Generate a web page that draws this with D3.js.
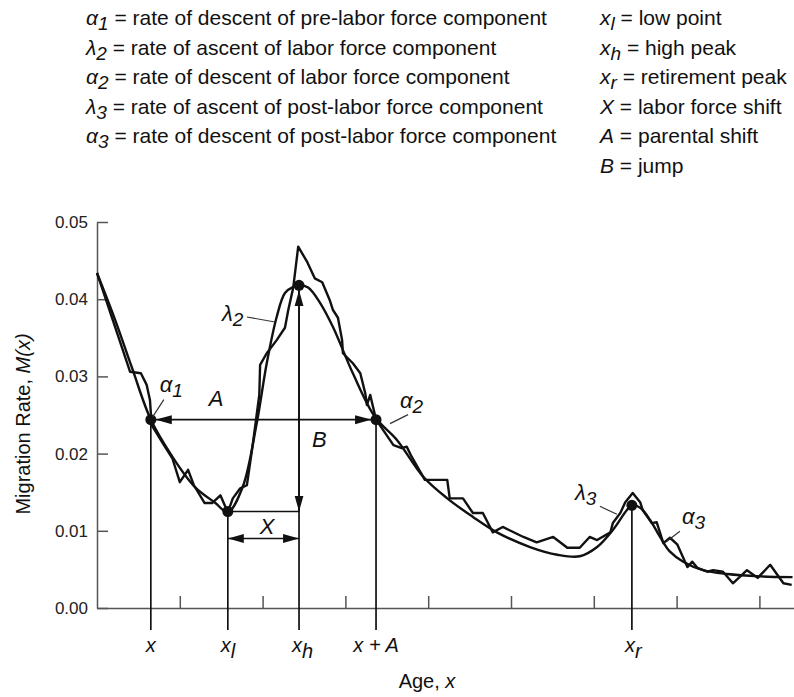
<!DOCTYPE html>
<meta charset="utf-8">
<script src="https://cdn.jsdelivr.net/npm/d3@7"></script>
<style>
body { margin: 0; background: #fff; }
svg { font-family: "Liberation Sans", Arial, sans-serif; }
.legend { font-size: 21px; fill: #111; }
.it { font-style: italic; }
.axis path, .axis line { stroke: #555; stroke-width: 1.5px; }
.axis text { font-size: 17px; fill: #222; font-family: "Liberation Sans", Arial, sans-serif; }
.curve { fill: none; stroke: #111; stroke-width: 2.4px; stroke-linejoin: round; }
.guide { stroke: #111; stroke-width: 1.7px; fill: none; }
.leader { stroke: #333; stroke-width: 1.2px; }
.ann { font-size: 22px; font-style: italic; fill: #111; }
.lab { font-size: 20px; fill: #111; }
</style>
<body>
<script>

// fitted model schedule (age, rate)
var fitAge  = [0, 2.2, 4.2, 6.5, 9.1, 11.8, 14.3, 15.8, 17.6, 19.3, 20.5, 21.7, 22.7, 23.7, 24.5, 25.5,
               26.9, 28.5, 30.9, 33.6, 36.2, 39.4, 42.3, 45.4, 48.3, 52.3, 55.6, 58.3, 60.4, 62.3, 64.0,
               64.6, 65.6, 66.8, 68.0, 69.2, 70.8, 73.2, 76.1, 80.1, 84.0];
var fitRate = [0.0434, 0.0373, 0.0312, 0.0244, 0.0196, 0.0157, 0.0136, 0.0124, 0.0157, 0.0240, 0.0317,
               0.0377, 0.0408, 0.0416, 0.0418, 0.0415, 0.0396, 0.0364, 0.0304, 0.0247, 0.0218, 0.0170,
               0.0142, 0.0118, 0.0098, 0.0079, 0.0069, 0.0067, 0.0079, 0.0101, 0.0127, 0.0133, 0.0130,
               0.0114, 0.0092, 0.0073, 0.0060, 0.0049, 0.0044, 0.0041, 0.0040];

// observed rates (age, rate)
var obsAge  = [0, 4.0, 5.3, 6.0, 6.4, 6.6, 8.2, 9.1, 10.0, 11.0, 11.7, 13.0, 13.9, 14.9, 15.8, 16.4,
               17.3, 18.1, 18.8, 19.6, 19.7, 20.5, 21.7, 22.7, 23.1, 23.7, 24.3, 25.4, 26.3, 27.2, 28.1,
               28.5, 29.1, 29.6, 29.7, 30.9, 31.8, 32.4, 32.6, 33.0, 33.7, 35.8, 36.8, 37.4, 38.0, 39.6,
               42.3, 42.6, 44.2, 45.4, 46.6, 47.8, 49.0, 51.5, 53.1, 55.1, 56.8, 58.3, 59.5, 60.4, 62.0,
               62.3, 63.2, 63.8, 64.7, 65.6, 65.9, 67.0, 67.6, 68.4, 69.2, 70.1, 71.3, 71.9, 72.5, 73.7,
               74.4, 75.6, 76.8, 78.5, 79.8, 81.3, 82.9, 83.9];
var obsRate = [0.0434, 0.0306, 0.0304, 0.0289, 0.0269, 0.0237, 0.0209, 0.0194, 0.0163, 0.0179, 0.0159,
               0.0136, 0.0136, 0.0146, 0.0124, 0.0142, 0.0155, 0.0159, 0.0211, 0.0276, 0.0315, 0.0330,
               0.0347, 0.0363, 0.0386, 0.0415, 0.0468, 0.0448, 0.0427, 0.0422, 0.0399, 0.0386, 0.0376,
               0.0347, 0.0330, 0.0317, 0.0304, 0.0278, 0.0263, 0.0276, 0.0244, 0.0211, 0.0207, 0.0209,
               0.0196, 0.0166, 0.0166, 0.0142, 0.0142, 0.0123, 0.0123, 0.0098, 0.0105, 0.0092, 0.0085,
               0.0092, 0.0078, 0.0078, 0.0092, 0.0088, 0.0098, 0.0110, 0.0123, 0.0137, 0.0149, 0.0137,
               0.0127, 0.0110, 0.0111, 0.0084, 0.0091, 0.0082, 0.0053, 0.0060, 0.0052, 0.0047, 0.0049,
               0.0047, 0.0032, 0.0049, 0.0039, 0.0056, 0.0032, 0.0030];

// marked points: x, x_l, x_h, x+A, x_r
var markAge  = [6.5, 15.8, 24.4, 33.7, 64.6];
var markRate = [0.0244, 0.0125, 0.0418, 0.0244, 0.0133];
var markMain = ["x", "x", "x", "x + A", "x"];
var markSub  = ["", "l", "h", "", "r"];

var xTicks = [10, 20, 30, 40, 50, 60, 70, 80];
var yTicks = [0, 0.01, 0.02, 0.03, 0.04, 0.05];

var legSym  = ["α", "λ", "α", "λ", "α"];
var legSub  = ["1", "2", "2", "3", "3"];
var legText = ["rate of descent of pre-labor force component",
               "rate of ascent of labor force component",
               "rate of descent of labor force component",
               "rate of ascent of post-labor force component",
               "rate of descent of post-labor force component"];
var keySym  = ["x", "x", "x", "X", "A", "B"];
var keySub  = ["l", "h", "r", "", "", ""];
var keyText = ["low point", "high peak", "retirement peak", "labor force shift", "parental shift", "jump"];

var w = 794, h = 697;
var svg = d3.select("body").append("svg").attr("width", w).attr("height", h);

var x = d3.scaleLinear().domain([0, 85]).range([97, 800.8]);
var y = d3.scaleLinear().domain([0, 0.05]).range([608, 222]);
var axisBottomY = 630;

// arrow marker
svg.append("defs").append("marker")
    .attr("id", "arr")
    .attr("markerUnits", "userSpaceOnUse")
    .attr("viewBox", "0 -5 16 10")
    .attr("markerWidth", 16).attr("markerHeight", 10)
    .attr("refX", 16).attr("refY", 0)
    .attr("orient", "auto-start-reverse")
  .append("path").attr("d", "M0,-4.5L16,0L0,4.5Z").attr("fill", "#111");

// legend
function legendRow(g, sx, sy, sym, sub, txt) {
  var t = g.append("text").attr("class", "legend").attr("x", sx).attr("y", sy);
  t.append("tspan").attr("class", "it").text(sym);
  if (sub) t.append("tspan").attr("class", "it").attr("dy", 5).style("font-size", "19px").text(sub);
  t.append("tspan").attr("dy", sub ? -5 : 0).text(" = " + txt);
}
var leg = svg.append("g");
legText.forEach(function(d, i) { legendRow(leg, 86, 25 + i * 29.6, legSym[i], legSub[i], d); });
keyText.forEach(function(d, i) { legendRow(leg, 600, 25 + i * 29.6, keySym[i], keySub[i], d); });

// axes
svg.append("g").attr("class", "axis")
    .attr("transform", "translate(97,0)")
    .call(d3.axisLeft(y).tickValues(yTicks).tickSize(-11).tickSizeOuter(0).tickPadding(9)
      .tickFormat(d3.format(".2f")));
svg.append("g").attr("class", "axis")
    .attr("transform", "translate(0,608)")
    .call(d3.axisBottom(x).tickValues(xTicks).tickSize(-12).tickSizeOuter(0).tickFormat(""));

// guides
var g = svg.append("g");
markAge.forEach(function(a, i) {
  g.append("line").attr("class", "guide")
    .attr("x1", x(a)).attr("x2", x(a))
    .attr("y1", y(markRate[i])).attr("y2", axisBottomY);
});
// X: horizontal from low point to high peak, plus double arrow
g.append("line").attr("class", "guide")
  .attr("x1", x(markAge[1])).attr("x2", x(markAge[2]))
  .attr("y1", y(markRate[1])).attr("y2", y(markRate[1]));
g.append("line").attr("class", "guide")
  .attr("x1", x(markAge[1])).attr("x2", x(markAge[2]))
  .attr("y1", y(markRate[1]) + 27).attr("y2", y(markRate[1]) + 27)
  .attr("marker-start", "url(#arr)").attr("marker-end", "url(#arr)");
// A: parental shift
g.append("line").attr("class", "guide")
  .attr("x1", x(markAge[0]) + 5).attr("x2", x(markAge[3]) - 5)
  .attr("y1", y(markRate[0])).attr("y2", y(markRate[3]))
  .attr("marker-start", "url(#arr)").attr("marker-end", "url(#arr)");
// B: jump
g.append("line").attr("class", "guide")
  .attr("x1", x(markAge[2])).attr("x2", x(markAge[2]))
  .attr("y1", y(markRate[2]) + 5).attr("y2", y(markRate[1]))
  .attr("marker-start", "url(#arr)").attr("marker-end", "url(#arr)");

// curves
var line = d3.line().x(function(d) { return x(d[0]); }).y(function(d) { return y(d[1]); });
svg.append("path").attr("class", "curve")
  .attr("d", line.curve(d3.curveCatmullRom.alpha(0.5))(d3.zip(fitAge, fitRate)));
svg.append("path").attr("class", "curve")
  .attr("d", line.curve(d3.curveLinear)(d3.zip(obsAge, obsRate)));

// points
svg.append("g").selectAll("circle")
  .data(d3.zip(markAge, markRate)).enter().append("circle")
  .attr("cx", function(d) { return x(d[0]); })
  .attr("cy", function(d) { return y(d[1]); })
  .attr("r", 5.5).attr("fill", "#111");

// tick labels under the guides
markAge.forEach(function(a, i) {
  var t = svg.append("text").attr("class", "lab it")
    .attr("x", markSub[i] ? x(a) - 7 : x(a)).attr("y", 652)
    .attr("text-anchor", markSub[i] ? "start" : "middle");
  t.append("tspan").text(markMain[i]);
  if (markSub[i]) t.append("tspan").attr("dy", 6).text(markSub[i]);
});

// axis titles
var xt = svg.append("text").attr("class", "lab").attr("x", 427).attr("y", 688).attr("text-anchor", "middle");
xt.append("tspan").text("Age, ");
xt.append("tspan").attr("class", "it").text("x");
var yt = svg.append("text").attr("class", "lab")
  .attr("transform", "translate(30,424) rotate(-90)").attr("text-anchor", "middle");
yt.append("tspan").text("Migration Rate, ");
yt.append("tspan").attr("class", "it").text("M(x)");

// annotation letters
function ann(px, py, main, sub) {
  var t = svg.append("text").attr("class", "ann").attr("x", px).attr("y", py);
  t.append("tspan").text(main);
  if (sub) t.append("tspan").attr("dy", 5).style("font-size", "19px").text(sub);
}
var p0 = [x(markAge[0]), y(markRate[0])], p3 = [x(markAge[3]), y(markRate[3])], pr = [x(markAge[4]), y(markRate[4])];
ann(p0[0] + 58, p0[1] - 14, "A");
ann(x(markAge[2]) + 13, p0[1] + 27, "B");
ann(x(markAge[1]) + 32, y(markRate[1]) + 22, "X");
ann(p0[0] + 9, p0[1] - 28, "α", "1");
ann(222, 321, "λ", "2");
ann(p3[0] + 24, p3[1] - 12, "α", "2");
ann(pr[0] - 57, pr[1] - 5, "λ", "3");
ann(pr[0] + 50, pr[1] + 19, "α", "3");

// leader lines
var leaders = [[p0[0] + 13, p0[1] - 20, p0[0] + 2, p0[1] - 3],
               [247, 317, 275, 322],
               [p3[0] + 32, p3[1] - 5, p3[0] + 14, p3[1] + 4],
               [pr[0] - 32, pr[1] + 1, pr[0] - 15, pr[1] + 9],
               [pr[0] + 48, pr[1] + 26, pr[0] + 35, pr[1] + 36]];
svg.append("g").selectAll("line").data(leaders).enter().append("line")
  .attr("class", "leader")
  .attr("x1", function(d) { return d[0]; }).attr("y1", function(d) { return d[1]; })
  .attr("x2", function(d) { return d[2]; }).attr("y2", function(d) { return d[3]; });

</script>
</body>
